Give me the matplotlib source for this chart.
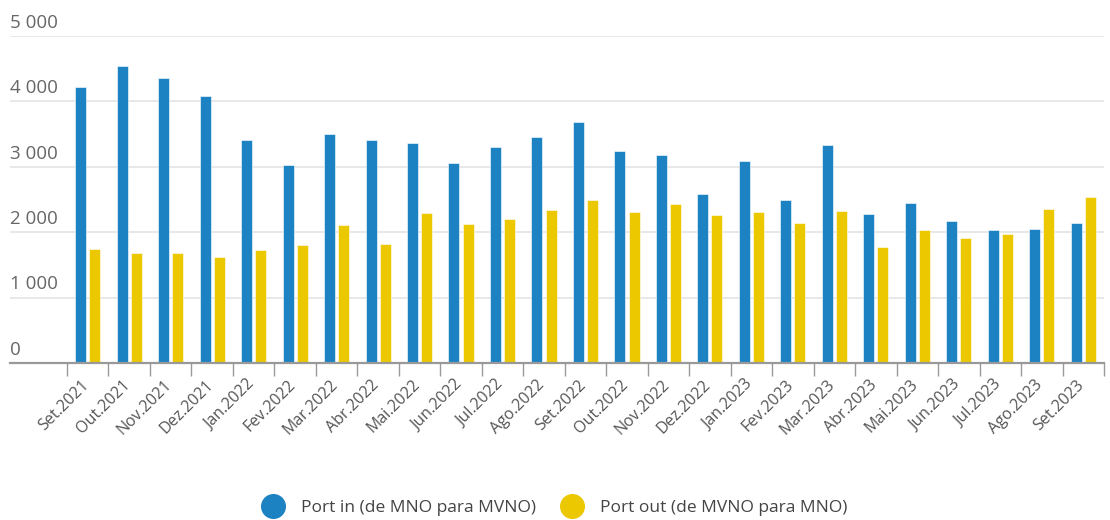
import matplotlib
matplotlib.use("Agg")
import matplotlib.pyplot as plt
import matplotlib.transforms as mtransforms
from matplotlib.lines import Line2D
import numpy as np

# data
months = ["Set.2021", "Out.2021", "Nov.2021", "Dez.2021", "Jan.2022", "Fev.2022",
          "Mar.2022", "Abr.2022", "Mai.2022", "Jun.2022", "Jul.2022", "Ago.2022",
          "Set.2022", "Out.2022", "Nov.2022", "Dez.2022", "Jan.2023", "Fev.2023",
          "Mar.2023", "Abr.2023", "Mai.2023", "Jun.2023", "Jul.2023", "Ago.2023",
          "Set.2023"]
port_in = [4220, 4540, 4365, 4080, 3415, 3020, 3500, 3405, 3365, 3065, 3310, 3455,
           3685, 3245, 3180, 2580, 3085, 2495, 3335, 2275, 2450, 2175, 2030, 2045, 2140]
port_out = [1750, 1680, 1680, 1625, 1725, 1810, 2110, 1815, 2290, 2120, 2195, 2340,
            2500, 2305, 2430, 2270, 2310, 2145, 2320, 1775, 2035, 1905, 1975, 2360, 2545]
yticks = [0, 1000, 2000, 3000, 4000, 5000]
labels = ["Port in (de MNO para MVNO)", "Port out (de MVNO para MNO)"]

blue = "#1d82c2"
yellow = "#ebc800"
plt.rcParams['font.family'] = ['Open Sans', 'DejaVu Sans']

fig = plt.figure(figsize=(11.1, 5.2), dpi=100)
ax = fig.add_axes([10/1110, 1 - 363/520, 1094/1110, 327/520])

x = np.arange(len(months))
w = 0.265
off = 0.17
ax.bar(x - off, port_in, w, color=blue, edgecolor="#ffffff", linewidth=0.4, zorder=3)
ax.bar(x + off, port_out, w, color=yellow, edgecolor="#ffffff", linewidth=0.4, zorder=3)

ax.set_xlim(-0.5 - 57/41.5, len(months) - 0.5)
ax.set_ylim(0, 5000)

# grid
for v in yticks[1:]:
    ax.axhline(v, color="#e6e6e6", lw=1.3, zorder=1)
ax.set_yticks([])
for s in ["top", "right", "left"]:
    ax.spines[s].set_visible(False)
ax.spines["bottom"].set_color("#999999")
ax.spines["bottom"].set_linewidth(1.6)
ax.spines["bottom"].set_zorder(4)

# y labels above gridlines
tr = mtransforms.blended_transform_factory(ax.transAxes, ax.transData)
for v in yticks:
    ax.text(0, v, f"{v:,}".replace(",", " "), transform=tr + mtransforms.ScaledTranslation(0, 3/72, fig.dpi_scale_trans),
            ha="left", va="bottom", fontsize=13.5, color="#666666")

# x ticks at boundaries, labels at centers
ax.set_xticks(np.arange(len(months) + 1) - 0.5)
ax.set_xticklabels([])
ax.tick_params(axis="x", length=9, width=1, color="#999999")
for i, m in enumerate(months):
    ax.annotate(m, xy=(i, 0), xycoords=("data", "axes fraction"), xytext=(-1, -14),
                textcoords="offset points", ha="right", va="center", rotation=45,
                rotation_mode="anchor", fontsize=11.5, color="#555555")

handles = [Line2D([], [], marker="o", ls="", markersize=17, color=blue),
           Line2D([], [], marker="o", ls="", markersize=17, color=yellow)]
fig.legend(handles, labels, loc="center", bbox_to_anchor=(0.497, 0.024), ncol=2,
           frameon=False, fontsize=12.5, labelcolor="#444444", handletextpad=0.6,
           columnspacing=1.1)

fig.savefig("out.png", dpi=100)
